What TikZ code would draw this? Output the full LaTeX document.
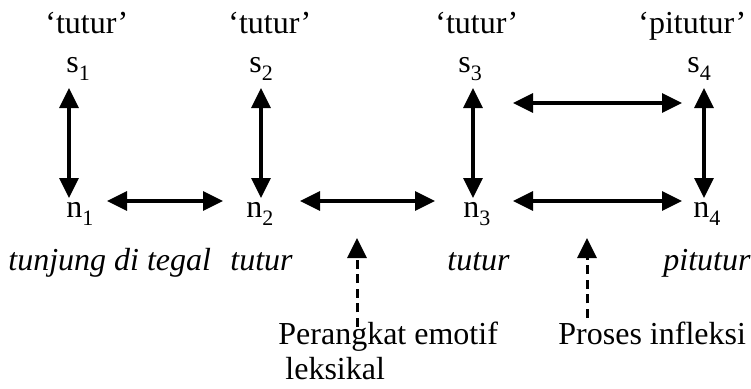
\documentclass[tikz,border=0pt]{standalone}
\usepackage{fontspec}
\setmainfont{Liberation Serif}
\usetikzlibrary{arrows.meta}
\newcommand\mysub[1]{\raisebox{-0.55ex}{\fontsize{11}{11}\selectfont #1}}
\begin{document}
\begin{tikzpicture}[x=0.5pt,y=-0.5pt,
  lbl/.style={inner sep=0pt, anchor=base west, font=\fontsize{16}{18}\selectfont},
  ilbl/.style={lbl, font=\fontsize{16}{18}\selectfont\itshape},
  arr/.style={line width=1.6pt, {Triangle[length=10pt,width=9.5pt]}-{Triangle[length=10pt,width=9.5pt]}},
  darr/.style={line width=1.5pt, dash pattern=on 4.5pt off 2.8pt, -{Triangle[length=10pt,width=9.5pt]}}]
\useasboundingbox (0,0) rectangle (751,388);
% glosses
\node[lbl] (q1) at (45,33) {‘tutur’};
\node[lbl] (q2) at (228,33) {‘tutur’};
\node[lbl] (q3) at (435,33) {‘tutur’};
\node[lbl] (q4) at (638,33) {‘pitutur’};
% s nodes
\node[lbl] (s1) at (66,72) {s\mysub{1}};
\node[lbl] (s2) at (249,72) {s\mysub{2}};
\node[lbl] (s3) at (458,72) {s\mysub{3}};
\node[lbl] (s4) at (687,72) {s\mysub{4}};
% n nodes
\node[lbl] (n1) at (66,217) {n\mysub{1}};
\node[lbl] (n2) at (246,217) {n\mysub{2}};
\node[lbl] (n3) at (463,217) {n\mysub{3}};
\node[lbl] (n4) at (693,217) {n\mysub{4}};
% word forms
\node[ilbl] (w1) at (8,270) {tunjung di tegal};
\node[ilbl] (w2) at (230,270) {tutur};
\node[ilbl] (w3) at (447,270) {tutur};
\node[ilbl] (w4) at (663,270) {pitutur};
% process labels
\node[lbl] (p1) at (278,344) {Perangkat emotif};
\node[lbl] (p1b) at (285,379) {leksikal};
\node[lbl] (p2) at (558,344) {Proses infleksi};
\coordinate (t1) at (357,238);
\coordinate (t2) at (587,238);
% vertical arrows
\draw[arr] ([shift={(3,16)}]s1.base west) -- ([shift={(3,-19)}]n1.base west);
\draw[arr] ([shift={(12,16)}]s2.base west) -- ([shift={(15,-19)}]n2.base west);
\draw[arr] ([shift={(15,16)}]s3.base west) -- ([shift={(10,-19)}]n3.base west);
\draw[arr] ([shift={(17,16)}]s4.base west) -- ([shift={(11,-19)}]n4.base west);
% horizontal arrows
\draw[arr] ([shift={(41,-16)}]n1.base west) -- ([shift={(-23,-16)}]n2.base west);
\draw[arr] ([shift={(54,-16)}]n2.base west) -- ([shift={(-28,-16)}]n3.base west);
\draw[arr] ([shift={(50,-16)}]n3.base west) -- ([shift={(-11,-16)}]n4.base west);
\draw[arr] ([shift={(55,31)}]s3.base west) -- ([shift={(-5,31)}]s4.base west);
% dashed arrows
\draw[darr] ([shift={(79,-17)}]p1.base west) -- (t1);
\draw[darr] ([shift={(29,-26)}]p2.base west) -- (t2);
\end{tikzpicture}
\end{document}
